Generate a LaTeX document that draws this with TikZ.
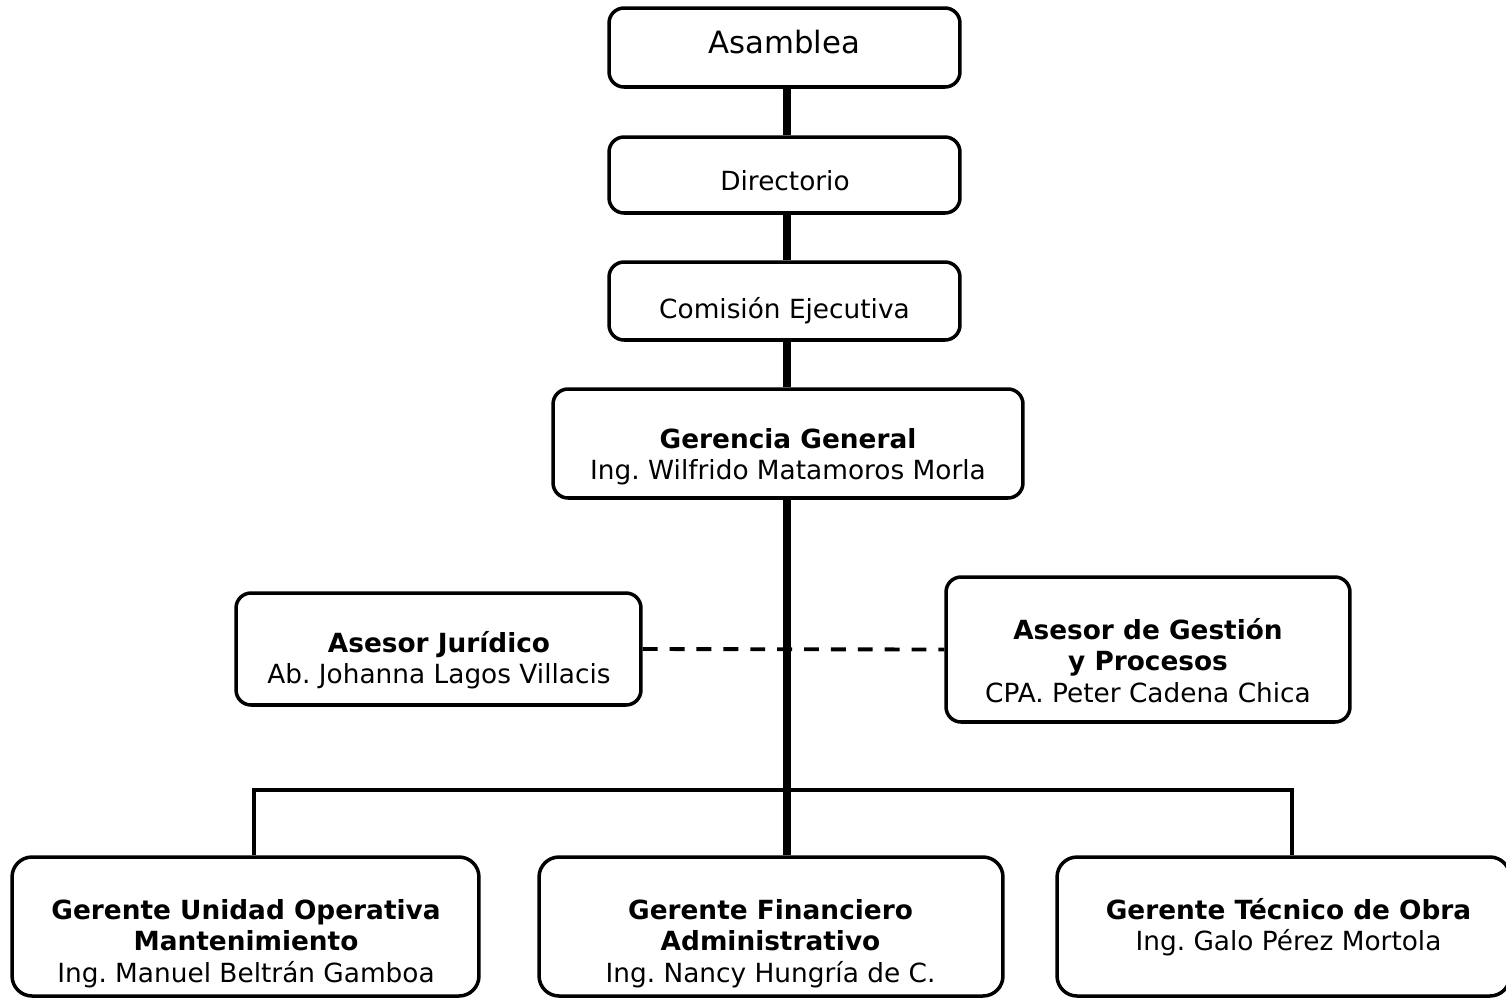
\documentclass[tikz,border=0pt]{standalone}
\usepackage{fontspec}
\setmainfont{DejaVu Sans}
\usepackage{tikz}
\frenchspacing
\tikzset{
	caja/.style={draw, line width=2pt, rounded corners=0.3cm, inner sep=0pt},
	cajabaja/.style={caja, rounded corners=0.4cm, minimum height=2.78cm},
	texto/.style={align=center, inner sep=0pt, font=\fontsize{15}{18}\selectfont},
	tronco/.style={line width=4.4pt},
	rama/.style={line width=2pt},
	asesoria/.style={line width=2.2pt, dash pattern=on 8.5pt off 6.8pt}
}

\begin{document}
\begin{tikzpicture}[x=0.02cm, y=-0.02cm]
		\useasboundingbox (0,0) rectangle (1506,998);
		\clip (0,0) rectangle (1506,998);
		\path (784.5,47.5) node(asamblea)[caja, minimum width=7.02cm, minimum height=1.58cm]{}
		(784.5,175) node(directorio)[caja, minimum width=7.02cm, minimum height=1.52cm]{}
		(784.5,301) node(comision)[caja, minimum width=7.02cm, minimum height=1.56cm]{}
		(788,443.5) node(gerencia)[caja, minimum width=9.4cm, minimum height=2.18cm]{}
		(438.5,649) node(juridico)[caja, minimum width=8.1cm, minimum height=2.24cm]{}
		(1148,649.5) node(gestion)[caja, minimum width=8.08cm, minimum height=2.9cm]{}
		(245.5,926.5) node(operativa)[cajabaja, minimum width=9.34cm]{}
		(771,926.5) node(financiero)[cajabaja, minimum width=9.28cm]{}
		(1283.5,926.5) node(tecnico)[cajabaja, minimum width=9.06cm]{};
		% textos
		\path (784,53.3) node(asamblea-t)[texto, anchor=base, font=\fontsize{17.5}{21}\selectfont]{Asamblea}
		(785,190.7) node(directorio-t)[texto, anchor=base]{Directorio}
		(784.5,318.3) node(comision-t)[texto, anchor=base]{Comisión Ejecutiva}
		(788,425.8) node(gerencia-t)[texto, anchor=north]{\strut\textbf{Gerencia General}\\Ing. Wilfrido Matamoros Morla}
		(439,629.5) node(juridico-t)[texto, anchor=north]{\strut\textbf{Asesor Jurídico}\\Ab. Johanna Lagos Villacis}
		(1148,616.8) node(gestion-t)[texto, anchor=north]{\strut\textbf{Asesor de Gestión}\\\textbf{y Procesos}\\CPA. Peter Cadena Chica}
		(246,896.8) node(operativa-t)[texto, anchor=north]{\strut\textbf{Gerente Unidad Operativa}\\\textbf{Mantenimiento}\\Ing. Manuel Beltrán Gamboa}
		(770.5,896.8) node(financiero-t)[texto, anchor=north]{\strut\textbf{Gerente Financiero}\\\textbf{Administrativo}\\Ing. Nancy Hungría de C.}
		(1288.5,896.8) node(tecnico-t)[texto, anchor=north]{\strut\textbf{Gerente Técnico de Obra}\\Ing. Galo Pérez Mortola};
		% lineas
		\coordinate (eje) at (787,0);
		\coordinate (ramaizq) at (254,790);
		\coordinate (ramader) at (1292,790);
		\draw [asesoria] (juridico.east) -- (gestion.west);
		\draw [tronco] (asamblea.south -| eje) -- (directorio.north -| eje);
		\draw [tronco] (directorio.south -| eje) -- (comision.north -| eje);
		\draw [tronco] (comision.south -| eje) -- (gerencia.north -| eje);
		\draw [tronco] (gerencia.south -| eje) -- (financiero.north -| eje);
		\draw [rama] (operativa.north -| ramaizq) -- (ramaizq) -- (ramader) -- (tecnico.north -| ramader);
	\end{tikzpicture}
\end{document}
